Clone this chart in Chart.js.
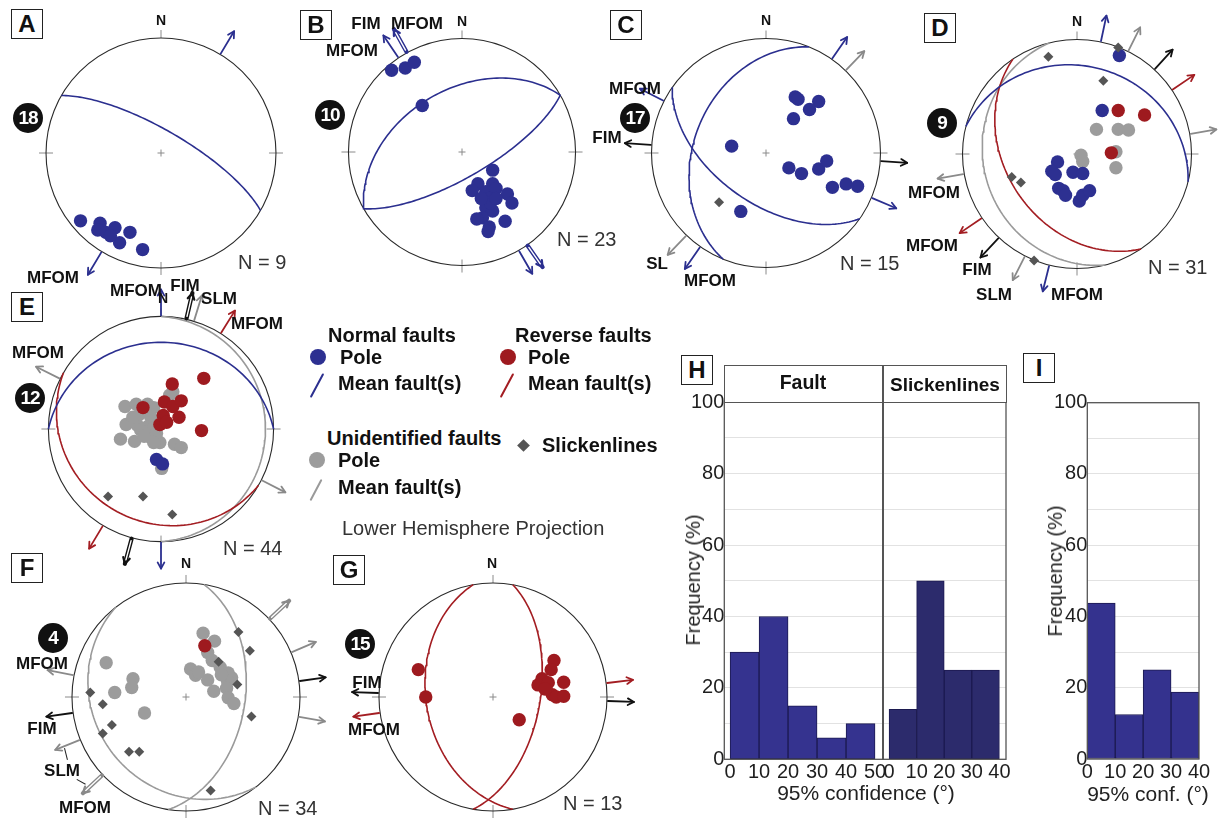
<!DOCTYPE html>
<html><head><meta charset="utf-8">
<script src="https://cdn.jsdelivr.net/npm/chart.js@4.4.1/dist/chart.umd.min.js"></script>
<style>
html,body{margin:0;padding:0;background:#fff;}
#root{position:relative;width:1222px;height:818px;overflow:hidden;font-family:"Liberation Sans",Arial,sans-serif;background:#fff;}
canvas{position:absolute;}
.t{position:absolute;white-space:nowrap;line-height:1;}
.c{transform:translate(-50%,-50%);}
.l{transform:translateY(-50%);}
.b{font-weight:bold;color:#111;}
.arr{font-size:17px;}
.nl{font-size:14px;}
.cnt{font-size:20px;color:#333;}
.lg{font-size:20px;}
.box{position:absolute;width:32px;height:30px;box-sizing:border-box;border:1.3px solid #222;font-weight:bold;font-size:24px;display:flex;align-items:center;justify-content:center;background:#fff;color:#111;}
.badge{position:absolute;width:30px;height:30px;border-radius:50%;background:#111;color:#fff;font-weight:bold;font-size:19px;display:flex;align-items:center;justify-content:center;transform:translate(-50%,-50%);letter-spacing:-1px;}
.ax{position:absolute;white-space:nowrap;line-height:1;color:#222;}
</style></head>
<body><div id="root"></div>
<script>
// ---------------- DATA ----------------
// pole positions on the net (x = east, y = north, unit radius), planes [kind, dip direction, dip], arrows [azimuth, kind, double]
const A_normalPoles = [[-0.70,-0.59],[-0.53,-0.61],[-0.55,-0.67],[-0.48,-0.69],[-0.40,-0.65],[-0.27,-0.69],[-0.36,-0.78],[-0.16,-0.84],[-0.44,-0.72]];
const A_planes = [['N',30,74]];
const A_arrows = [[31,'N'],[211,'N']];

const B_normalPoles = [[-0.62,0.72],[-0.50,0.74],[-0.42,0.79],[-0.35,0.41],
  [0.27,-0.16],[0.14,-0.28],[0.27,-0.28],[0.09,-0.34],[0.21,-0.35],[0.30,-0.32],[0.40,-0.37],[0.24,-0.41],[0.44,-0.45],[0.21,-0.49],
  [0.27,-0.52],[0.18,-0.58],[0.13,-0.59],[0.38,-0.61],[0.24,-0.66],[0.23,-0.70],[0.25,-0.45],[0.17,-0.41],[0.30,-0.41]];
const B_planes = [['N',330,44],['N',150,72]];
const B_arrows = [[326,'N'],[331,'N',1],[145,'N',1],[150,'N']];

const C_normalPoles = [[0.255,0.49],[0.28,0.47],[0.46,0.45],[0.38,0.38],[0.24,0.30],[-0.30,0.06],[0.20,-0.13],[0.31,-0.18],[0.46,-0.14],[0.53,-0.07],[0.58,-0.30],[0.70,-0.27],[0.80,-0.29],[-0.22,-0.51]];
const C_slickenlines = [[-0.41,-0.43]];
const C_planes = [['N',215,54],['N',292,37]];
const C_arrows = [[35,'N'],[44,'U'],[94,'K'],[113,'N'],[274,'K'],[297,'N'],[224,'U'],[215,'N']];

const D_normalPoles = [[0.37,0.86],[0.22,0.38],[-0.17,-0.07],[-0.22,-0.15],[-0.19,-0.18],[-0.035,-0.16],[0.05,-0.17],[-0.16,-0.30],[-0.12,-0.32],[-0.10,-0.36],[0.02,-0.41],[0.05,-0.36],[0.11,-0.32]];
const D_reversePoles = [[0.36,0.38],[0.59,0.34],[0.30,0.01]];
const D_unidentifiedPoles = [[0.17,0.215],[0.36,0.215],[0.45,0.21],[0.035,-0.01],[0.05,-0.065],[0.34,0.02],[0.34,-0.12]];
const D_slickenlines = [[0.36,0.93],[-0.25,0.85],[0.23,0.64],[-0.57,-0.20],[-0.49,-0.25],[-0.375,-0.93]];
const D_planes = [['N',14,24],['R',236,38],['U',256,19]];
const D_arrows = [[12,'N'],[26.5,'U'],[42.5,'K'],[56,'R'],[80,'U'],[260,'U'],[236,'R'],[223,'K'],[207,'U'],[194,'N']];

const E_normalPoles = [[-0.04,-0.27],[0.014,-0.31]];
const E_reversePoles = [[0.10,0.40],[0.38,0.45],[-0.16,0.19],[0.03,0.24],[0.105,0.20],[0.18,0.25],[0.16,0.105],[0.02,0.12],[-0.01,0.04],[0.05,0.06],[0.36,-0.014]];
const E_unidentifiedPoles = [[-0.32,0.20],[-0.22,0.22],[-0.12,0.22],[-0.065,0.19],[-0.19,0.13],[-0.09,0.105],[-0.31,0.04],[-0.21,0.034],[-0.12,0.02],[-0.065,0.006],[-0.36,-0.09],[-0.235,-0.11],[-0.11,-0.065],[-0.01,-0.12],[0.12,-0.136],[0.18,-0.165],[0.105,0.33],[-0.18,-0.01],[-0.04,-0.04],[0.006,-0.35],[0.077,0.30],[-0.065,-0.12],[-0.25,0.105],[-0.15,-0.065]];
const E_slickenlines = [[-0.47,-0.60],[-0.16,-0.60],[0.10,-0.76]];
const E_planes = [['N',0,24],['R',210,18],['U',90,8]];
const E_arrows = [[0,'N'],[13,'K',1],[17,'U'],[32,'R'],[296.5,'U'],[117,'U'],[211,'R'],[195,'K',1],[180,'N']];

const F_reversePoles = [[0.165,0.45]];
const F_unidentifiedPoles = [[0.15,0.56],[0.25,0.49],[0.19,0.39],[0.23,0.32],[0.30,0.26],[0.37,0.21],[0.40,0.17],[0.04,0.245],[0.084,0.19],[0.19,0.15],[0.364,0.14],[0.356,0.077],[0.244,0.05],[0.37,-0.007],[0.42,-0.057],[-0.70,0.30],[-0.465,0.16],[-0.476,0.083],[-0.625,0.04],[-0.364,-0.14],[0.11,0.22],[0.31,0.195]];
const F_slickenlines = [[0.46,0.57],[0.56,0.405],[0.286,0.31],[0.45,0.11],[0.574,-0.17],[-0.84,0.04],[-0.73,-0.063],[-0.65,-0.245],[-0.73,-0.32],[-0.50,-0.48],[-0.41,-0.48],[0.216,-0.82]];
const F_planes = [['U',99,47],['U',232,20]];
const F_arrows = [[47,'U',1],[67,'U'],[82,'K'],[100,'U'],[281,'U'],[262,'K'],[248,'U'],[227,'U',1]];

const G_reversePoles = [[-0.655,0.24],[-0.59,0],[0.23,-0.20],[0.535,0.32],[0.51,0.24],[0.43,0.16],[0.395,0.106],[0.485,0.126],[0.62,0.13],[0.52,0.02],[0.555,0],[0.62,0.006],[0.457,0.07]];
const G_planes = [['R',260,41],['R',100,56]];
const G_arrows = [[83,'R'],[92,'K'],[272,'K'],[262,'R']];

const sampleSizes = ['N = 9','N = 23','N = 15','N = 31','N = 44','N = 34','N = 13'];
const siteNumbers = ['18','10','17','9','12','4','15'];

// histograms
const faultBinEdges = [0,10,20,30,40,50];
const faultFreq = [30,40,15,6,10];
const slickBinEdges = [0,10,20,30,40];
const slickFreq = [14,50,25,25];
const iBinEdges = [0,10,20,30,40];
const iFreq = [43.75,12.5,25,18.75];
const faultXTicks = [0,10,20,30,40,50];
const slickXTicks = [0,10,20,30,40];
const iXTicks = [0,10,20,30,40];
const yTickLabels = [0,20,40,60,80,100];

// ---------------- STYLE ----------------
const POLE = {N:'#2d3091', R:'#9e1a1f', U:'#9c9c9c'};
const LINE = {N:'#2b2f8f', R:'#a31d22', U:'#9a9a9a', K:'#111111'};
const ARROW = {N:'#2b2f8f', R:'#a31d22', U:'#8a8a8a', K:'#111111'};
Chart.defaults.font.family = '"Liberation Sans", Arial, sans-serif';

const root = document.getElementById('root');

function planeCurve(dd, dip){
  const d2r = Math.PI/180, pts = [];
  const s = (dd-90)*d2r, D = dd*d2r, de = dip*d2r;
  const sv = [Math.sin(s), Math.cos(s), 0];
  const dv = [Math.cos(de)*Math.sin(D), Math.cos(de)*Math.cos(D), Math.sin(de)];
  for (let i=0;i<=180;i+=2){
    const t=i*d2r;
    const v=[0,1,2].map(k=>Math.cos(t)*sv[k]+Math.sin(t)*dv[k]);
    const pl=Math.asin(Math.max(0,Math.min(1,v[2])));
    const tr=Math.atan2(v[0],v[1]);
    const r=Math.SQRT2*Math.sin((Math.PI/2-pl)/2);
    pts.push({x:r*Math.sin(tr), y:r*Math.cos(tr)});
  }
  return pts;
}

const netPlugin = {
  id:'net',
  beforeDatasetsDraw(chart){
    const ctx=chart.ctx, xs=chart.scales.x, ys=chart.scales.y;
    const cx=xs.getPixelForValue(0), cy=ys.getPixelForValue(0), R=xs.getPixelForValue(1)-cx;
    ctx.save();
    ctx.strokeStyle='#8a8a8a'; ctx.lineWidth=1;
    ctx.beginPath();
    ctx.moveTo(cx,cy-R); ctx.lineTo(cx,cy-R-8);
    ctx.moveTo(cx-R-7,cy); ctx.lineTo(cx-R+7,cy);
    ctx.moveTo(cx+R-7,cy); ctx.lineTo(cx+R+7,cy);
    ctx.moveTo(cx,cy+R-6); ctx.lineTo(cx,cy+R+7);
    ctx.moveTo(cx-3.5,cy); ctx.lineTo(cx+3.5,cy);
    ctx.moveTo(cx,cy-3.5); ctx.lineTo(cx,cy+3.5);
    ctx.stroke();
    ctx.beginPath(); ctx.arc(cx,cy,R,0,Math.PI*2);
    ctx.strokeStyle='#2a2a2a'; ctx.lineWidth=1.1; ctx.stroke();
    ctx.restore();
  },
  afterDraw(chart, args, opts){
    const ctx=chart.ctx, xs=chart.scales.x, ys=chart.scales.y;
    const cx=xs.getPixelForValue(0), cy=ys.getPixelForValue(0), R=xs.getPixelForValue(1)-cx;
    ctx.save();
    ctx.lineCap='round'; ctx.lineJoin='round';
    for (const a of (opts.arrows||[])){
      const [az, kind, dbl] = a;
      const ang=az*Math.PI/180, ux=Math.sin(ang), uy=-Math.cos(ang);
      const r0=R+1, r1=R+27;
      const x0=cx+ux*r0, y0=cy+uy*r0, x1=cx+ux*r1, y1=cy+uy*r1;
      const col=ARROW[kind];
      ctx.strokeStyle=col;
      ctx.lineWidth=dbl?4.2:1.8;
      ctx.beginPath(); ctx.moveTo(x0,y0); ctx.lineTo(x1,y1); ctx.stroke();
      if (dbl){
        ctx.strokeStyle='#fff'; ctx.lineWidth=1.4;
        ctx.beginPath(); ctx.moveTo(x0+ux*2,y0+uy*2); ctx.lineTo(x1-ux*4,y1-uy*4); ctx.stroke();
        ctx.strokeStyle=col;
      }
      const h=7, sp=0.5;
      const bx=-ux, by=-uy;
      ctx.lineWidth=dbl?2.2:1.8;
      ctx.beginPath();
      ctx.moveTo(x1+h*(bx*Math.cos(sp)-by*Math.sin(sp)), y1+h*(bx*Math.sin(sp)+by*Math.cos(sp)));
      ctx.lineTo(x1,y1);
      ctx.lineTo(x1+h*(bx*Math.cos(-sp)-by*Math.sin(-sp)), y1+h*(bx*Math.sin(-sp)+by*Math.cos(-sp)));
      ctx.stroke();
    }
    ctx.restore();
  }
};

function makeNet(n){
  const H=160;
  const cv=document.createElement('canvas');
  cv.width=2*H; cv.height=2*H;
  cv.style.left=(n.cx-H)+'px'; cv.style.top=(n.cy-H)+'px';
  cv.style.width=2*H+'px'; cv.style.height=2*H+'px';
  root.appendChild(cv);
  const k=H/n.R;
  const ds=[];
  const poleOrder={U:4,N:3,R:2};
  for (const [kind,pts] of n.poles){
    ds.push({data:pts.map(p=>({x:p[0],y:p[1]})), pointRadius:6.7, pointBackgroundColor:POLE[kind], pointBorderWidth:0, pointStyle:'circle', showLine:false, order:poleOrder[kind]});
  }
  if (n.slick) ds.push({data:n.slick.map(p=>({x:p[0],y:p[1]})), pointRadius:5, pointStyle:'rectRot', pointBackgroundColor:'#555', pointBorderWidth:0, showLine:false, order:1});
  for (const [kind,dd,dip] of n.planes){
    ds.push({data:planeCurve(dd,dip), showLine:true, pointRadius:0, borderColor:LINE[kind], borderWidth:1.6, fill:false, tension:0, order:8});
  }
  new Chart(cv,{type:'scatter', data:{datasets:ds},
    options:{responsive:false, maintainAspectRatio:false, animation:false, events:[], devicePixelRatio:1,
      layout:{padding:0},
      plugins:{legend:{display:false}, tooltip:{enabled:false}, net:{arrows:n.arrows}},
      scales:{x:{type:'linear',min:-k,max:k,display:false}, y:{type:'linear',min:-k,max:k,display:false}}},
    plugins:[netPlugin]});
}

makeNet({cx:161, cy:153, R:120, poles:[['N',A_normalPoles]], planes:A_planes, arrows:A_arrows});
makeNet({cx:461.5, cy:151.5, R:118.5, poles:[['N',B_normalPoles]], planes:B_planes, arrows:B_arrows});
makeNet({cx:765.5, cy:153, R:119.5, poles:[['N',C_normalPoles]], slick:C_slickenlines, planes:C_planes, arrows:C_arrows});
makeNet({cx:1076.5, cy:154, R:119.5, poles:[['U',D_unidentifiedPoles],['N',D_normalPoles],['R',D_reversePoles]], slick:D_slickenlines, planes:D_planes, arrows:D_arrows});
makeNet({cx:161, cy:429, R:117.5, poles:[['U',E_unidentifiedPoles],['N',E_normalPoles],['R',E_reversePoles]], slick:E_slickenlines, planes:E_planes, arrows:E_arrows});
makeNet({cx:186, cy:696.5, R:119, poles:[['U',F_unidentifiedPoles],['R',F_reversePoles]], slick:F_slickenlines, planes:F_planes, arrows:F_arrows});
makeNet({cx:492.5, cy:696.5, R:119, poles:[['R',G_reversePoles]], planes:G_planes, arrows:G_arrows});

// ---------------- HISTOGRAMS ----------------
const framePlugin={id:'frame', afterDraw(chart){const a=chart.chartArea, ctx=chart.ctx; ctx.save(); ctx.strokeStyle='#555'; ctx.lineWidth=1.3; ctx.strokeRect(a.left,a.top,a.right-a.left,a.bottom-a.top); ctx.restore();}};

function makeHist(h){
  const extra=16;
  const cv=document.createElement('canvas');
  cv.width=h.width+extra; cv.height=h.height;
  cv.style.left=h.left+'px'; cv.style.top=h.top+'px';
  cv.style.width=(h.width+extra)+'px'; cv.style.height=h.height+'px';
  root.appendChild(cv);
  const data=h.freqs.map((f,i)=>({x:(h.edges[i]+h.edges[i+1])/2, y:f}));
  new Chart(cv,{type:'bar',
    data:{datasets:[{data, backgroundColor:h.color, borderColor:'#1c1a50', borderWidth:1, barPercentage:1, categoryPercentage:1, borderSkipped:false}]},
    options:{responsive:false, maintainAspectRatio:false, animation:false, events:[], devicePixelRatio:1,
      layout:{padding:{top:h.padTop,left:0,right:extra,bottom:0}},
      plugins:{legend:{display:false}, tooltip:{enabled:false}},
      scales:{
        x:{type:'linear', min:h.xmin, max:h.xmax, offset:false, grid:{display:false, drawTicks:false, offset:false}, border:{display:false},
          afterBuildTicks:s=>{s.ticks=h.xticks.map(v=>({value:v}));},
          afterFit:s=>{s.height=h.xH; s.paddingLeft=0; s.paddingRight=0;},
          ticks:{font:{size:20}, color:'#1e1e1e', padding:1, maxRotation:0, autoSkip:false, callback:v=>String(v)}},
        y:{type:'linear', min:0, max:100, grid:{color:'#e2e2e2', drawTicks:false, lineWidth:1}, border:{display:false},
          afterFit:s=>{s.width=h.yW; s.paddingTop=0; s.paddingBottom=0;},
          ticks:{display:h.showY, stepSize:10, autoSkip:false, padding:0, font:{size:20}, color:'#1e1e1e', callback:v=>yTickLabels.includes(v)?String(v):''}}
      }},
    plugins:[framePlugin]});
}

makeHist({left:670, top:360, width:213, height:458, padTop:42.3, yW:54.3, xH:58.7, xmin:-2, xmax:52.75, edges:faultBinEdges, freqs:faultFreq, xticks:faultXTicks, color:'#35338f', showY:true});
makeHist({left:883, top:360, width:123, height:458, padTop:42.3, yW:0, xH:58.7, xmin:-2.2, xmax:42.4, edges:slickBinEdges, freqs:slickFreq, xticks:slickXTicks, color:'#2c2b6c', showY:false});
makeHist({left:1010, top:360, width:189, height:458, padTop:42.7, yW:77.3, xH:59, xmin:0, xmax:40, edges:iBinEdges, freqs:iFreq, xticks:iXTicks, color:'#34328e', showY:true});

// ---------------- TEXT ----------------
function addText(txt, x, y, cls, extra){
  const d=document.createElement('div');
  d.className='t '+cls; d.textContent=txt;
  d.style.left=x+'px'; d.style.top=y+'px';
  if (extra) Object.assign(d.style, extra);
  root.appendChild(d); return d;
}
function addBox(txt,x,y){const d=document.createElement('div'); d.className='box'; d.textContent=txt; d.style.left=x+'px'; d.style.top=y+'px'; root.appendChild(d);}
function addBadge(txt,x,y){const d=document.createElement('div'); d.className='badge'; d.textContent=txt; d.style.left=x+'px'; d.style.top=y+'px'; root.appendChild(d);}
function leader(x1,y1,x2,y2){const len=Math.hypot(x2-x1,y2-y1), ang=Math.atan2(y2-y1,x2-x1)*180/Math.PI; const d=document.createElement('div'); Object.assign(d.style,{position:'absolute',left:x1+'px',top:y1+'px',width:len+'px',height:'1.2px',background:'#222',transformOrigin:'0 0',transform:'rotate('+ang+'deg)'}); root.appendChild(d);}

// panel letters
[['A',11,9],['B',300,10],['C',610,10],['D',924,13],['E',11,292],['F',11,553],['G',333,555],['H',681,355],['I',1023,353]].forEach(p=>addBox(...p));
// site numbers
[[28,118],[330,115],[635,118],[942,123],[30,398],[53,638],[360,644]].forEach((p,i)=>addBadge(siteNumbers[i],p[0],p[1]));
// north labels
[[161,20],[462,21],[766,20],[1077,21],[163,298],[186,563],[492,563]].forEach(p=>addText('N',p[0],p[1],'c b nl'));
// sample sizes
[[238,262],[557,239],[840,263],[1148,267],[223,548],[258,808],[563,803]].forEach((p,i)=>addText(sampleSizes[i],p[0],p[1],'l cnt'));
// arrow labels
[['MFOM',53,277],
 ['FIM',366,23],['MFOM',417,23],['MFOM',352,50],
 ['MFOM',635,88],['FIM',607,137],['SL',657,263],['MFOM',710,280],
 ['MFOM',934,192],['MFOM',932,245],['FIM',977,269],['SLM',994,294],['MFOM',1077,294],
 ['MFOM',136,290],['FIM',185,285],['SLM',219,298],['MFOM',257,323],['MFOM',38,352],
 ['MFOM',42,663],['FIM',42,728],['SLM',62,770],['MFOM',85,807],
 ['FIM',367,682],['MFOM',374,729]].forEach(p=>addText(p[0],p[1],p[2],'c b arr'));
leader(65,748,68,760);
leader(77,779,86,784);

// legend
function dot(x,y,col){const d=document.createElement('div'); Object.assign(d.style,{position:'absolute',left:(x-8)+'px',top:(y-8)+'px',width:'16px',height:'16px',borderRadius:'50%',background:col}); root.appendChild(d);}
function seg(x,y,len,col){const d=document.createElement('div'); Object.assign(d.style,{position:'absolute',left:(x-1)+'px',top:(y-len/2)+'px',width:'2px',height:len+'px',background:col,transform:'rotate(28deg)',borderRadius:'1px'}); root.appendChild(d);}
addText('Normal faults',328,335,'l b lg');
dot(318,357,POLE.N); addText('Pole',340,357,'l b lg');
seg(316.5,385,27,LINE.N); addText('Mean fault(s)',338,383,'l b lg');
addText('Reverse faults',515,335,'l b lg');
dot(508,357,POLE.R); addText('Pole',528,357,'l b lg');
seg(506.5,385,27,LINE.R); addText('Mean fault(s)',528,383,'l b lg');
addText('Unidentified faults',327,438,'l b lg');
dot(317,460,POLE.U); addText('Pole',338,460,'l b lg');
seg(316,490,24,LINE.U); addText('Mean fault(s)',338,487,'l b lg');
(function(){const d=document.createElement('div'); Object.assign(d.style,{position:'absolute',left:'518.5px',top:'440.5px',width:'9px',height:'9px',background:'#555',transform:'rotate(45deg)'}); root.appendChild(d);})();
addText('Slickenlines',542,445,'l b lg');
addText('Lower Hemisphere Projection',342,528,'l lg',{color:'#333'});

// histogram strip header
(function(){
  const s=document.createElement('div');
  Object.assign(s.style,{position:'absolute',left:'724px',top:'365px',width:'282.5px',height:'38px',boxSizing:'border-box',border:'1.3px solid #555',background:'#fff'});
  root.appendChild(s);
  const dv=document.createElement('div');
  Object.assign(dv.style,{position:'absolute',left:'882.4px',top:'365px',width:'1.3px',height:'394.5px',background:'#555'});
  root.appendChild(dv);
})();
addText('Fault',803,383,'c b',{fontSize:'19.5px'});
addText('Slickenlines',945,384,'c b',{fontSize:'19px'});
// axis titles
addText('Frequency (%)',693,580,'ax',{fontSize:'20px',transform:'translate(-50%,-50%) rotate(-90deg)'});
addText('Frequency (%)',1055,571,'ax',{fontSize:'20px',transform:'translate(-50%,-50%) rotate(-90deg)'});
addText('95% confidence (°)',866,792,'ax c',{fontSize:'21px'});
addText('95% conf. (°)',1148,793,'ax c',{fontSize:'21px'});
</script>
</body></html>
